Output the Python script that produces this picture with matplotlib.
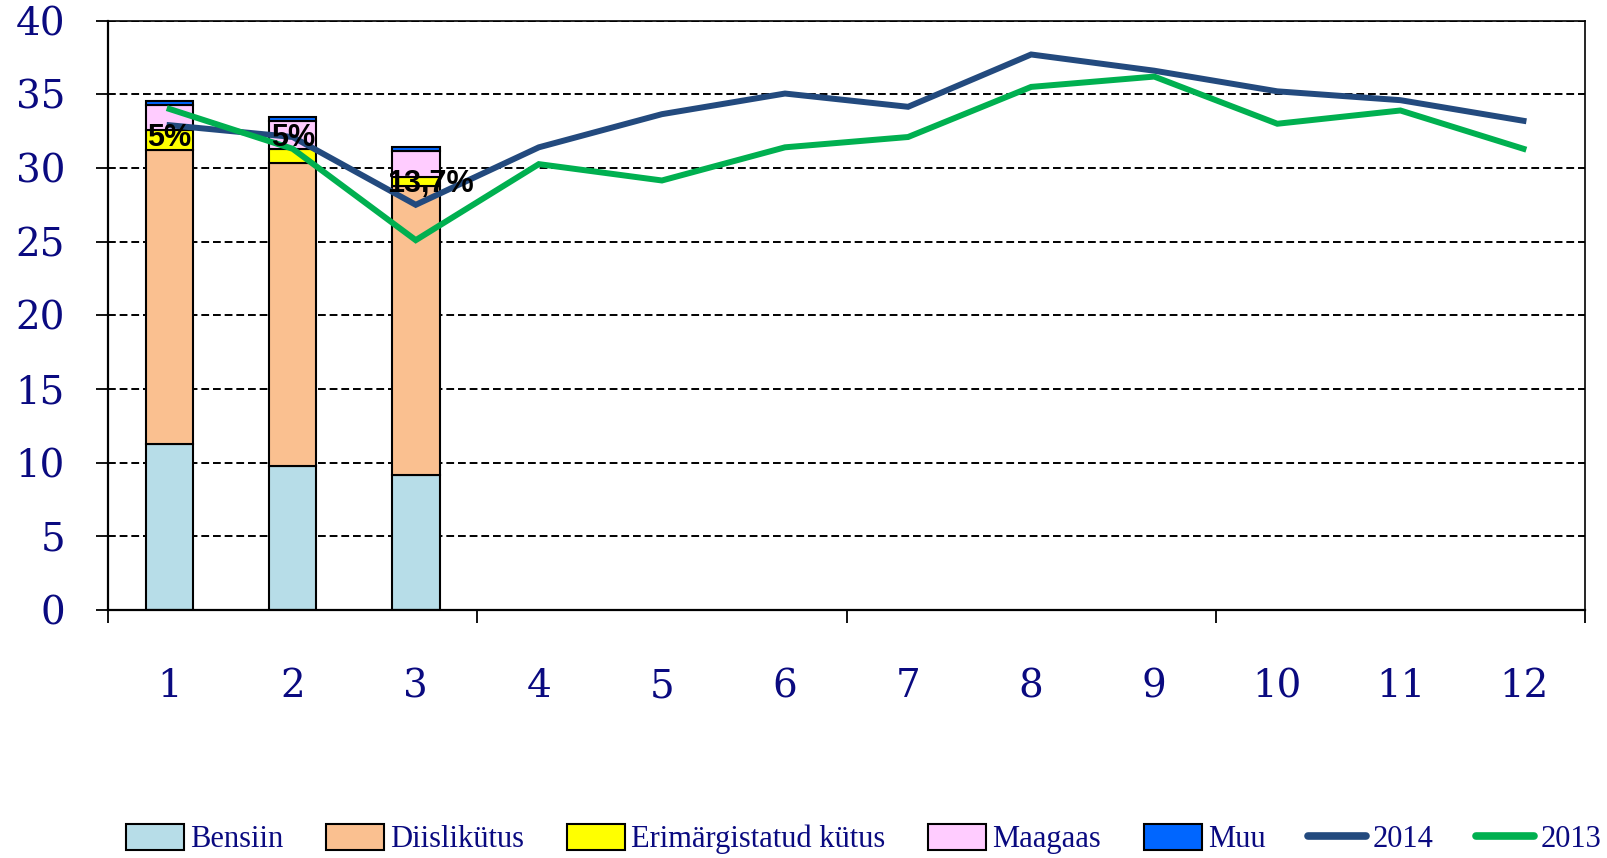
import matplotlib
matplotlib.use("Agg")
import matplotlib.pyplot as plt
from matplotlib.patches import Patch
from matplotlib.lines import Line2D
import numpy as np

months = list(range(1, 13))
month_labels = [str(m) for m in months]

bar_months = [1, 2, 3]
bensiin = [11.3, 9.77, 9.14]
diislikutus = [19.95, 20.58, 19.63]
erimargistatud = [1.35, 0.91, 0.6]
maagaas = [1.65, 1.92, 1.8]
muu = [0.3, 0.29, 0.27]

series_names = ["Bensiin", "Diislikütus", "Erimärgistatud kütus", "Maagaas", "Muu"]
series_colors = ["#B7DDE8", "#FAC090", "#FFFF00", "#FFCCFF", "#0066FF"]

line_2014 = [32.9, 32.1, 27.5, 31.4, 33.65, 35.05, 34.15, 37.7, 36.6, 35.2, 34.6, 33.2]
line_2013 = [34.0, 31.3, 25.1, 30.26, 29.15, 31.4, 32.1, 35.5, 36.2, 33.0, 33.9, 31.3]

pct_labels = ["5%", "5%", "13,7%"]
pct_y = [32.0, 32.0, 28.9]
pct_dx = [0.0, 0.0, 0.12]

NAVY = "#0A0A80"

fig = plt.figure(figsize=(16.08, 8.58), dpi=100)
ax = fig.add_axes([0.0672, 0.289, 0.9185, 0.687])

stack = [bensiin, diislikutus, erimargistatud, maagaas, muu]
bottom = np.zeros(len(bar_months))
for vals, col, name in zip(stack, series_colors, series_names):
    ax.bar(bar_months, vals, width=0.387, bottom=bottom, color=col,
           edgecolor="black", linewidth=1.5, zorder=2, label=name)
    bottom += np.array(vals)

ax.plot(months, line_2014, color="#234A7E", lw=4.3, zorder=3, solid_joinstyle="miter")
ax.plot(months, line_2013, color="#00B050", lw=4.3, zorder=3, solid_joinstyle="miter")

for m, lab, y, dx in zip(bar_months, pct_labels, pct_y, pct_dx):
    ax.text(m + dx, y, lab, ha="center", va="center", fontsize=22,
            fontweight="bold", family="Liberation Sans", color="black", zorder=5)

ax.set_xlim(0.5, 12.5)
ax.set_ylim(0, 40)
ax.set_yticks(np.arange(0, 41, 5))
ax.yaxis.grid(True, linestyle=(0, (4, 2)), color="black", linewidth=1.4, zorder=1)
ax.set_axisbelow(True)

ax.set_xticks([0.5, 3.5, 6.5, 9.5, 12.5])
ax.set_xticklabels([])
ax.set_xticks(months, minor=True)
ax.set_xticklabels(month_labels, minor=True)
ax.tick_params(axis="x", which="major", direction="out", length=9, width=1.3)
ax.tick_params(axis="x", which="minor", length=0, pad=42, labelsize=28,
               labelcolor=NAVY)
ax.tick_params(axis="y", direction="out", length=9, width=1.3, labelsize=28,
               labelcolor=NAVY, pad=22)
for lab in ax.get_xticklabels(minor=True) + ax.get_yticklabels():
    lab.set_family("DejaVu Serif")

for s in ["left", "bottom"]:
    ax.spines[s].set_linewidth(1.6)
for s in ["top", "right"]:
    ax.spines[s].set_linewidth(1.2)

handles = [Patch(facecolor=c, edgecolor="black", linewidth=1.5) for c in series_colors]
handles += [Line2D([0], [0], color="#234A7E", lw=5.5, solid_capstyle="round"),
            Line2D([0], [0], color="#00B050", lw=5.5, solid_capstyle="round")]
labels = series_names + ["2014", "2013"]
leg = fig.legend(handles, labels, loc="center", bbox_to_anchor=(0.537, 0.022),
                 ncol=7, frameon=False, prop={"family": "Liberation Serif", "size": 22},
                 handlelength=1.9, handleheight=0.95, handletextpad=0.2,
                 columnspacing=1.4, borderaxespad=0)
for t in leg.get_texts():
    t.set_color(NAVY)

fig.savefig("out.png", dpi=100)
